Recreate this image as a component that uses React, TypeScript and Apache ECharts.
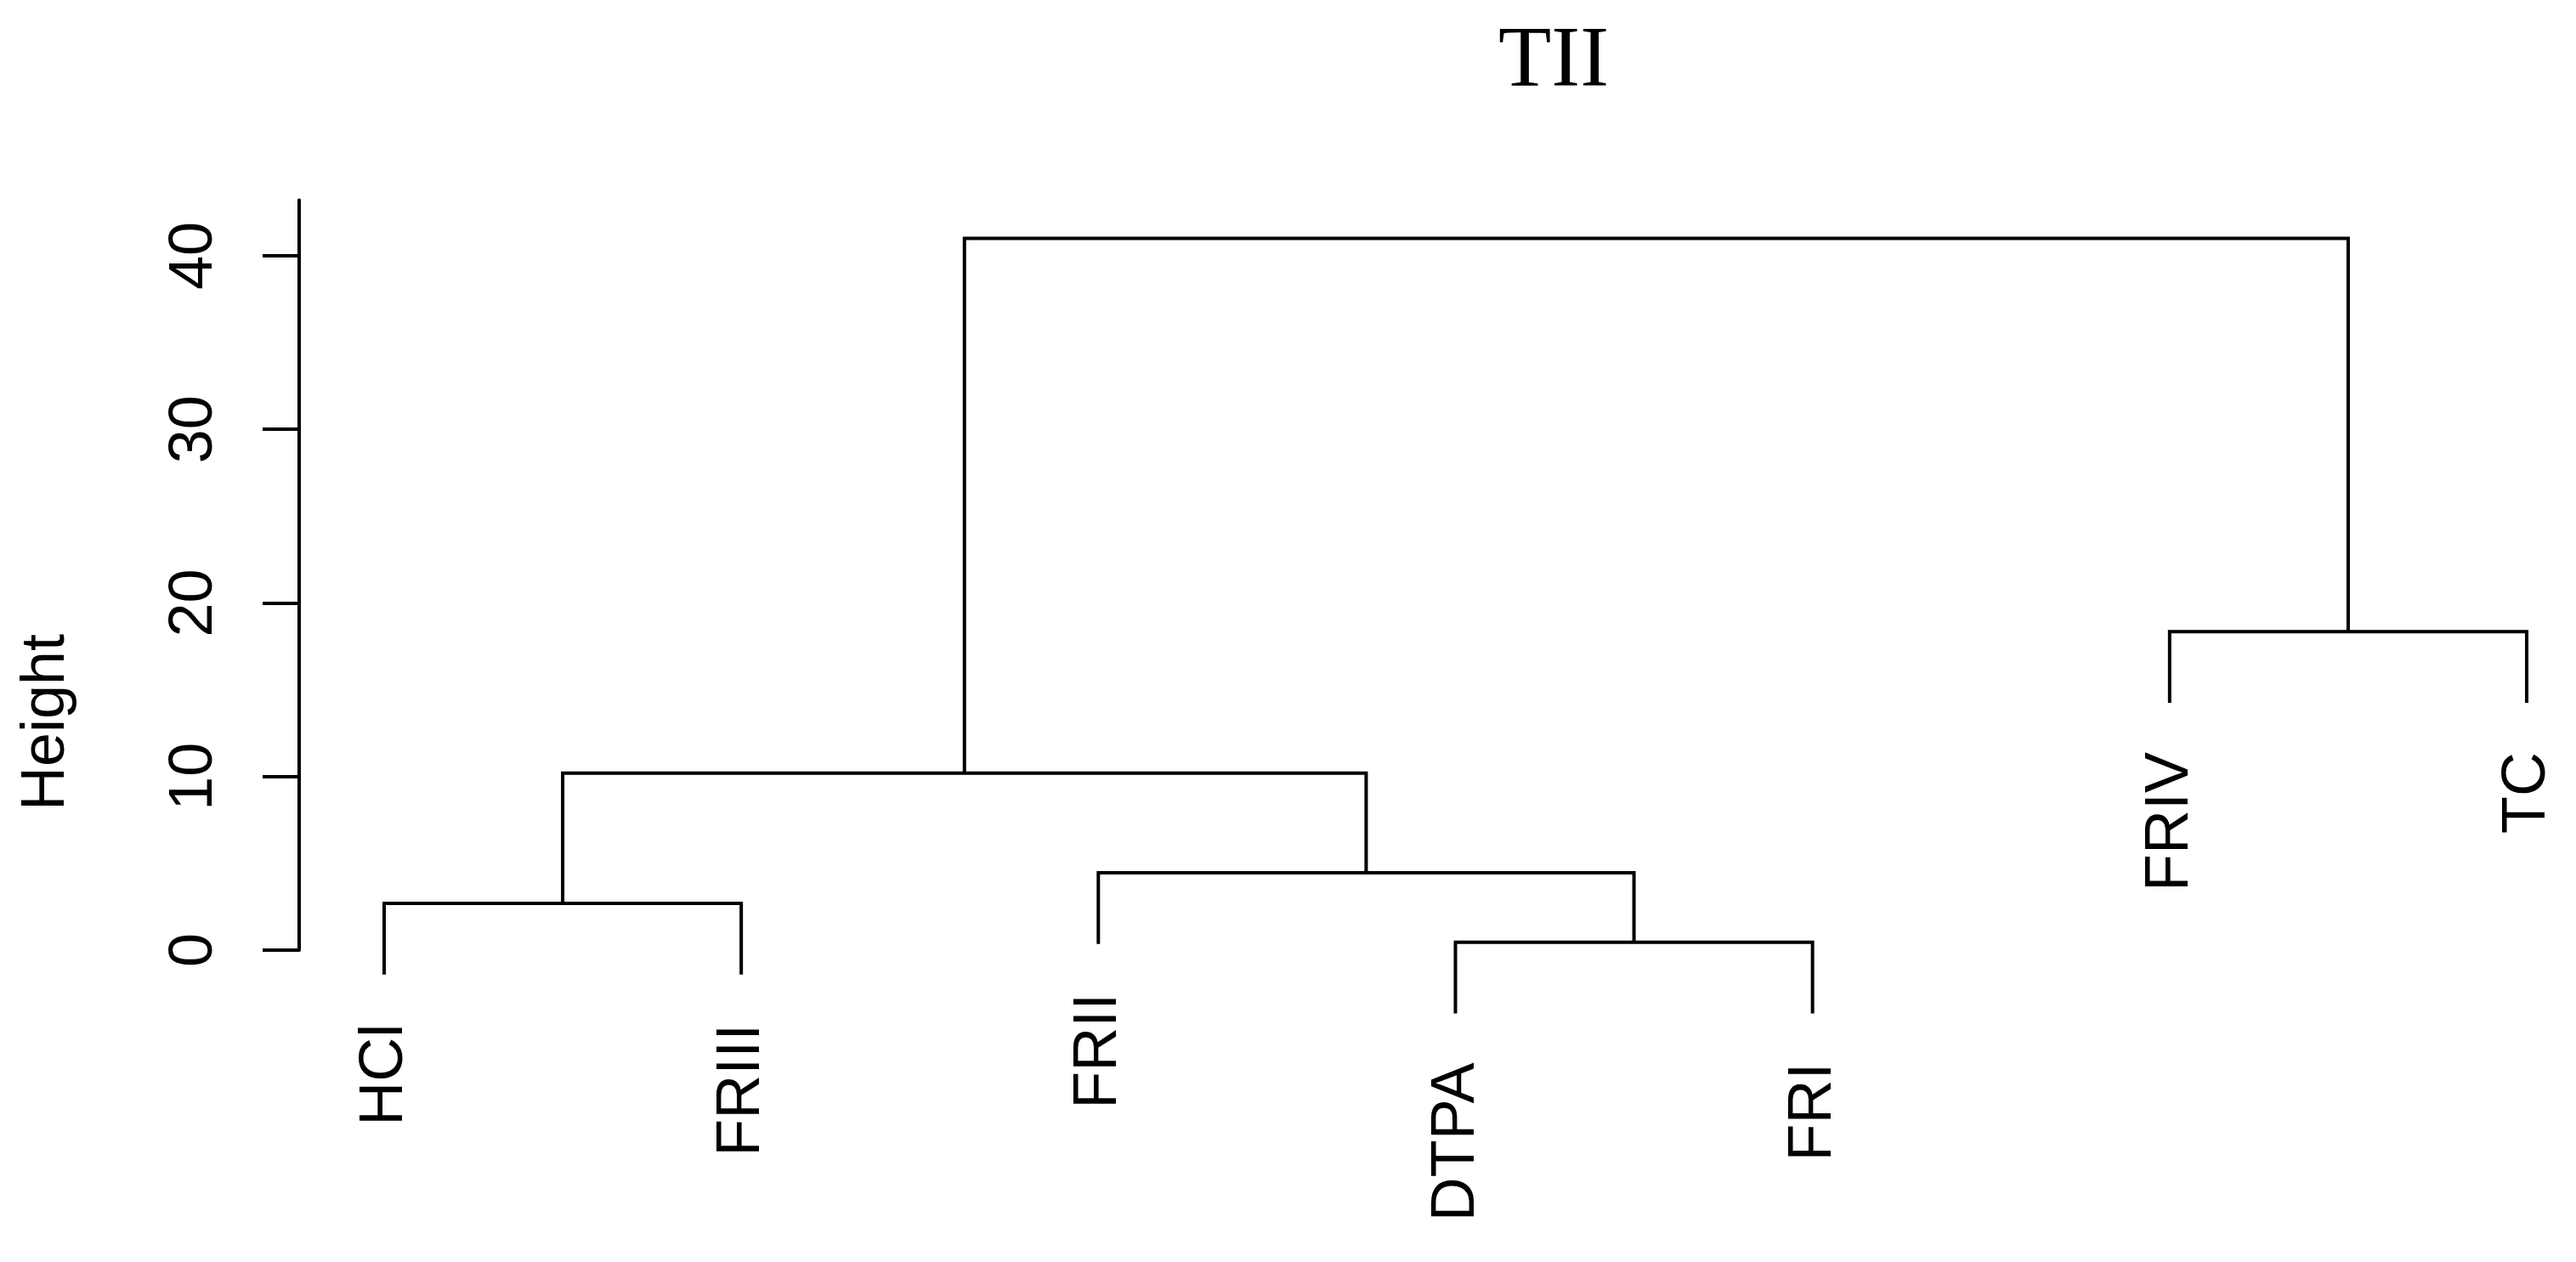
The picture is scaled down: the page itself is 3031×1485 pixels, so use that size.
import React, { useEffect, useRef } from "react";
import * as echarts from "echarts";

// ---- data ----
const chartTitle = "TII";
const yAxisTitle = "Height";
const leafLabels = ["HCl", "FRIII", "FRII", "DTPA", "FRI", "FRIV", "TC"];
// hclust-style merge table: negative = leaf (1-based order), positive = earlier merge (1-based)
const mergeLeft = [-4, -1, -3, 2, -6, 4];
const mergeRight = [-5, -2, 1, 3, -7, 5];
const mergeHeight = [0.45, 2.69, 4.45, 10.2, 18.35, 41.0];
const yTickValues = [0, 10, 20, 30, 40];
const hangFraction = 0.1;
const yAxisTop = 43.2;

// ---- derived dendrogram geometry (in data units) ----
const maxHeight = Math.max(...mergeHeight);
const hang = hangFraction * maxHeight;
const mergeX: number[] = [];
const leafEnd: number[] = leafLabels.map(() => 0);
const nodeX = (id: number) => (id < 0 ? -id : mergeX[id - 1]);
mergeHeight.forEach((h, i) => {
  const l = mergeLeft[i];
  const r = mergeRight[i];
  mergeX.push((nodeX(l) + nodeX(r)) / 2);
  if (l < 0) leafEnd[-l - 1] = h - hang;
  if (r < 0) leafEnd[-r - 1] = h - hang;
});
const nodeBottom = (id: number, parentH: number) =>
  id < 0 ? parentH - hang : mergeHeight[id - 1];
const linkData = mergeHeight.map((h, i) => [
  nodeX(mergeLeft[i]),
  nodeBottom(mergeLeft[i], h),
  nodeX(mergeRight[i]),
  nodeBottom(mergeRight[i], h),
  h,
]);
const leafData = leafLabels.map((_, i) => [i + 1, leafEnd[i]]);

const SANS = '"Liberation Sans", Arial, sans-serif';
const SERIF = '"Liberation Serif", "Times New Roman", serif';

export default function App() {
  const ref = useRef<HTMLDivElement>(null);
  useEffect(() => {
    if (!ref.current) return;
    const chart = echarts.init(ref.current, null, { renderer: "svg" });
    chart.setOption({
      animation: false,
      backgroundColor: "#ffffff",
      title: {
        text: chartTitle,
        left: 1763,
        top: 15,
        padding: 0,
        textStyle: {
          fontFamily: SERIF,
          fontSize: 102,
          fontWeight: "normal",
          color: "#000",
        },
      },
      grid: { left: 352, right: 0, top: 235.6, bottom: 367, containLabel: false },
      xAxis: { type: "value", min: 0.762, max: 7.138, show: false },
      yAxis: {
        type: "value",
        min: 0,
        max: yAxisTop,
        interval: 10,
        axisLine: { show: true, lineStyle: { color: "#000", width: 4 } },
        axisTick: {
          show: true,
          length: 43,
          customValues: yTickValues,
          lineStyle: { color: "#000", width: 4 },
        },
        axisLabel: {
          rotate: 90,
          margin: 92,
          fontSize: 72,
          fontFamily: SANS,
          color: "#000",
          customValues: yTickValues,
        },
        splitLine: { show: false },
      },
      graphic: [
        {
          type: "text",
          x: 50,
          y: 850,
          rotation: Math.PI / 2,
          style: {
            text: yAxisTitle,
            font: `72px ${SANS}`,
            fill: "#000",
            textAlign: "center",
            textVerticalAlign: "middle",
            align: "center",
            verticalAlign: "middle",
          },
        },
      ],
      series: [
        {
          type: "custom",
          clip: false,
          silent: true,
          encode: { x: [0, 2], y: [1, 3, 4] },
          data: linkData,
          renderItem: (_params: any, api: any) => {
            const xL = api.value(0);
            const bL = api.value(1);
            const xR = api.value(2);
            const bR = api.value(3);
            const h = api.value(4);
            return {
              type: "polyline",
              shape: {
                points: [
                  api.coord([xL, bL]),
                  api.coord([xL, h]),
                  api.coord([xR, h]),
                  api.coord([xR, bR]),
                ],
              },
              style: { stroke: "#000", lineWidth: 4, fill: null, lineJoin: "miter" },
            };
          },
        },
        {
          type: "custom",
          clip: false,
          silent: true,
          encode: { x: 0, y: 1 },
          data: leafData,
          renderItem: (params: any, api: any) => {
            const p = api.coord([api.value(0), api.value(1)]);
            return {
              type: "text",
              x: p[0] - 4,
              y: p[1] + 58,
              rotation: Math.PI / 2,
              style: {
                text: leafLabels[params.dataIndex],
                font: `72px ${SANS}`,
                fill: "#000",
                textAlign: "right",
                textVerticalAlign: "middle",
                align: "right",
                verticalAlign: "middle",
              },
            };
          },
        },
      ],
    });
    return () => chart.dispose();
  }, []);
  return (
    <div
      ref={ref}
      style={{ position: "absolute", left: 0, top: 0, width: 3031, height: 1485 }}
    />
  );
}
